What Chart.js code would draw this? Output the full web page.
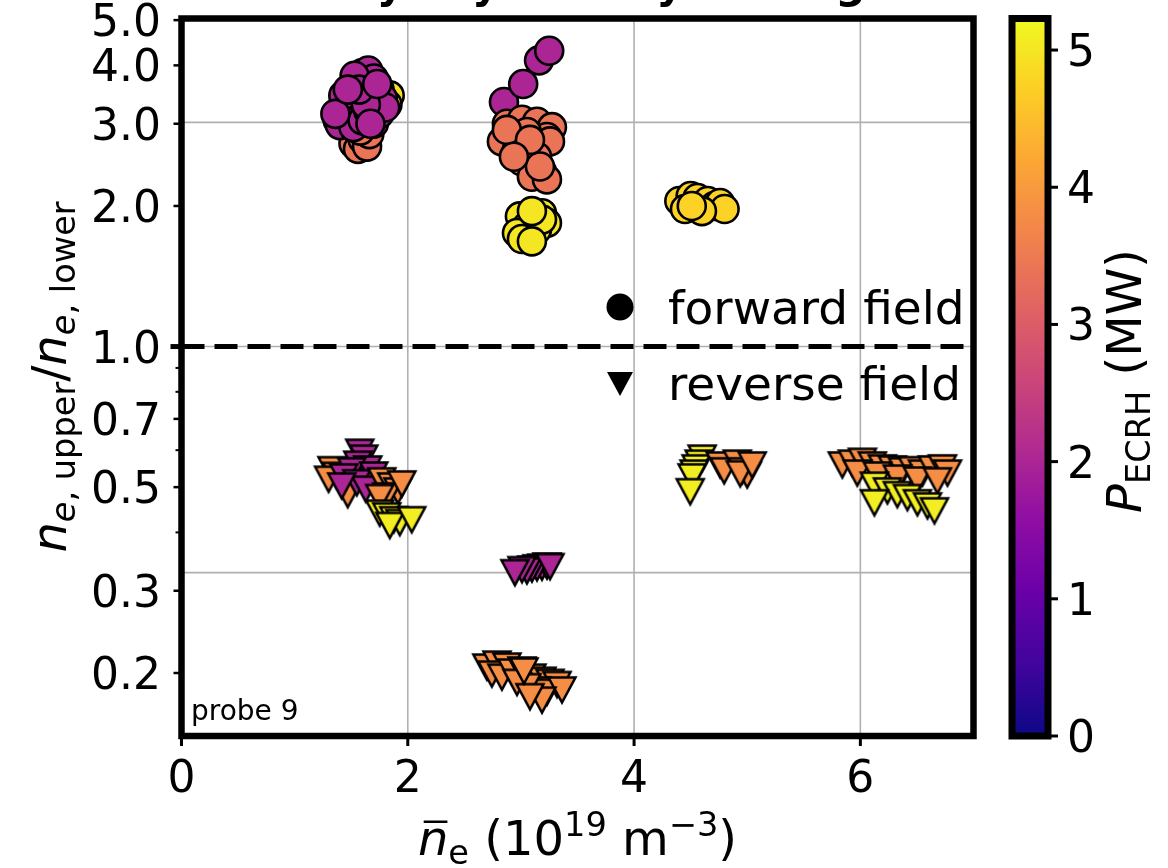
<!DOCTYPE html>
<html>
<head>
<meta charset="utf-8">
<script src="https://cdn.jsdelivr.net/npm/chart.js@4.4.0/dist/chart.umd.min.js"></script>
<style>
  html, body { margin: 0; padding: 0; background: #ffffff; }
  canvas { display: block; }
</style>
</head>
<body>
<canvas id="c" width="1168" height="868"></canvas>
<script>
// ---- axis settings and tick labels ----
const X_MIN = 0, X_MAX = 7;
const Y_MIN = 0.1466, Y_MAX = 5.04;
const xTicks = [0, 2, 4, 6];
const yTicks = [0.2, 0.3, 0.5, 0.7, 1.0, 2.0, 3.0, 4.0, 5.0];
const yTickLabels = ['0.2', '0.3', '0.5', '0.7', '1.0', '2.0', '3.0', '4.0', '5.0'];
const yMinorTicks = [0.4, 0.6, 0.8, 0.9];
const gridX = [2, 4, 6];
const gridY = [0.328, 1, 3.02];
const cbarTicks = [0, 1, 2, 3, 4, 5];
const P_MIN = 0, P_MAX = 5.23;

// ---- forward field (circles): density, ratio, heating power ----
const fwdX = [
  1.84, 1.82,
  1.52, 1.56, 1.60, 1.64, 1.66, 1.58,
  1.38, 1.42, 1.40, 1.45, 1.48, 1.50, 1.52, 1.55, 1.55, 1.58, 1.60, 1.60, 1.62, 1.65, 1.65, 1.68,
  1.70, 1.70, 1.72, 1.75, 1.75, 1.78, 1.80, 1.43, 1.53, 1.63, 1.57, 1.36, 1.67, 1.73, 1.47,
  2.85, 3.02, 3.16, 3.25,
  2.876, 3.009, 3.142, 3.274, 3.23, 2.92, 3.053, 2.832, 2.965, 3.097, 3.257, 3.009, 3.142, 3.186,
  3.097, 3.23, 3.168, 2.876, 3.08, 2.938,
  2.991, 3.186, 3.23, 3.053, 2.965, 3.142, 3.186, 3.097, 3.009, 3.097,
  4.40, 4.50, 4.56, 4.65, 4.71, 4.76, 4.80, 4.60, 4.45, 4.51
];
const fwdY = [
  3.45, 3.30,
  2.72, 2.65, 2.78, 2.68, 2.85, 2.90,
  3.05, 3.20, 2.98, 3.35, 3.10, 3.50, 2.95, 3.25, 3.70, 3.40, 3.05, 3.85, 3.60, 3.20, 3.90, 3.45,
  3.75, 3.00, 3.30, 3.55, 3.15, 3.40, 3.25, 3.45, 3.80, 3.30, 3.55, 3.15, 3.00, 3.65, 3.55,
  3.34, 3.65, 4.10, 4.30,
  3.00, 3.06, 3.03, 2.95, 2.81, 2.81, 2.88, 2.75, 2.64, 2.68, 2.75, 2.49, 2.55, 2.37,
  2.31, 2.28, 2.43, 2.91, 2.77, 2.55,
  1.90, 1.93, 1.84, 1.81, 1.75, 1.78, 1.87, 1.95, 1.70, 1.68,
  2.05, 2.10, 2.08, 2.05, 2.00, 2.03, 1.97, 1.95, 1.97, 2.00
];
const fwdP = [
  4.9, 4.9,
  3.4, 3.4, 3.4, 3.4, 3.4, 3.4,
  2.0, 2.0, 2.0, 2.0, 2.0, 2.0, 2.0, 2.0, 2.0, 2.0, 2.0, 2.0, 2.0, 2.0, 2.0, 2.0,
  2.0, 2.0, 2.0, 2.0, 2.0, 2.0, 2.0, 2.0, 2.0, 2.0, 2.0, 2.0, 2.0, 2.0, 2.0,
  2.0, 2.0, 2.0, 2.0,
  3.4, 3.4, 3.4, 3.4, 3.4, 3.4, 3.4, 3.4, 3.4, 3.4, 3.4, 3.4, 3.4, 3.4,
  3.4, 3.4, 3.4, 3.4, 3.4, 3.4,
  5.0, 5.0, 5.0, 5.0, 5.0, 5.0, 5.0, 5.0, 5.0, 5.0,
  4.75, 4.75, 4.75, 4.75, 4.75, 4.75, 4.75, 4.75, 4.75, 4.75
];

// ---- reverse field (triangles): density, ratio, heating power ----
const revX = [
  1.33, 1.37, 1.30, 1.469,
  1.575, 1.611, 1.558, 1.646, 1.504, 1.434, 1.699, 1.549, 1.628, 1.416,
  1.770, 1.858, 1.912, 1.814, 1.752, 1.947,
  1.752, 1.814, 1.876, 1.929, 1.841, 2.035,
  3.186, 3.23, 3.142, 3.097, 3.053, 3.257, 3.009, 2.947,
  2.699, 2.788, 2.876, 2.743, 2.832, 2.920, 3.009, 3.097, 3.186, 3.257, 3.319, 3.142, 3.230,
  3.053, 2.965, 3.363, 3.186, 3.080, 3.027,
  4.602, 4.575, 4.549, 4.531, 4.513,
  4.761, 4.796, 4.912, 4.956, 5.000, 4.938, 5.044,
  4.496,
  5.841, 5.929, 6.018, 6.106, 6.195, 6.283, 6.372, 6.460, 6.549, 6.637, 6.726, 6.770,
  5.973, 6.150, 6.327, 6.504, 6.681,
  6.124, 6.239, 6.327, 6.416, 6.504, 6.593, 6.655, 6.124
];
const revY = [
  0.545, 0.530, 0.520, 0.482,
  0.594, 0.577, 0.560, 0.547, 0.542, 0.526, 0.531, 0.511, 0.495, 0.503,
  0.516, 0.503, 0.491, 0.479, 0.475, 0.508,
  0.440, 0.434, 0.426, 0.420, 0.414, 0.426,
  0.337, 0.339, 0.336, 0.334, 0.331, 0.338, 0.333, 0.328,
  0.206, 0.209, 0.207, 0.199, 0.196, 0.201, 0.203, 0.196, 0.193, 0.191, 0.189, 0.184, 0.182,
  0.187, 0.191, 0.184, 0.175, 0.178, 0.202,
  0.577, 0.563, 0.550, 0.536, 0.526,
  0.558, 0.542, 0.563, 0.542, 0.531, 0.534, 0.558,
  0.489,
  0.558, 0.563, 0.568, 0.558, 0.550, 0.547, 0.542, 0.545, 0.536, 0.547, 0.550, 0.536,
  0.536, 0.531, 0.523, 0.518, 0.516,
  0.505, 0.491, 0.482, 0.475, 0.463, 0.456, 0.445, 0.463
];
const revP = [
  3.8, 3.8, 3.8, 3.8,
  2.0, 2.0, 2.0, 2.0, 2.0, 2.0, 2.0, 2.0, 2.0, 2.0,
  3.8, 3.8, 3.8, 3.8, 3.8, 3.8,
  5.1, 5.1, 5.1, 5.1, 5.1, 5.1,
  2.0, 2.0, 2.0, 2.0, 2.0, 2.0, 2.0, 2.0,
  3.8, 3.8, 3.8, 3.8, 3.8, 3.8, 3.8, 3.8, 3.8, 3.8, 3.8, 3.8, 3.8,
  3.8, 3.8, 3.8, 3.8, 3.8, 3.8,
  5.1, 5.1, 5.1, 5.1, 5.1,
  3.8, 3.8, 3.8, 3.8, 3.8, 3.8, 3.8,
  5.1,
  3.8, 3.8, 3.8, 3.8, 3.8, 3.8, 3.8, 3.8, 3.8, 3.8, 3.8, 3.8,
  3.8, 3.8, 3.8, 3.8, 3.8,
  5.1, 5.1, 5.1, 5.1, 5.1, 5.1, 5.1, 5.1
];

// ---- plasma colour map ----
const PLASMA = ['#0d0887', '#41049d', '#6a00a8', '#8f0da4', '#b12a90', '#cc4778',
                '#e16462', '#f2844b', '#fca636', '#fcce25', '#f0f921'];
function hexRgb(h) {
  return [parseInt(h.slice(1, 3), 16), parseInt(h.slice(3, 5), 16), parseInt(h.slice(5, 7), 16)];
}
function plasma(t) {
  t = Math.max(0, Math.min(1, t));
  const s = t * (PLASMA.length - 1);
  const i = Math.min(PLASMA.length - 2, Math.floor(s));
  const f = s - i;
  const a = hexRgb(PLASMA[i]), b = hexRgb(PLASMA[i + 1]);
  const c = a.map((v, k) => Math.round(v + (b[k] - v) * f));
  return 'rgb(' + c.join(',') + ')';
}
function powerColor(p) { return plasma((p - P_MIN) / (P_MAX - P_MIN)); }

// ---- downward triangle marker images, cached per colour ----
const triCache = {};
function triangleMarker(color, w, h, lw) {
  const key = color + '|' + w + '|' + h + '|' + lw;
  if (triCache[key]) return triCache[key];
  const cv = document.createElement('canvas');
  cv.width = Math.ceil(w + 2 * lw + 2); cv.height = Math.ceil(h + 2 * lw + 2);
  const g = cv.getContext('2d');
  const ox = lw + 1, oy = lw + 1;
  g.beginPath();
  g.moveTo(ox, oy);
  g.lineTo(ox + w, oy);
  g.lineTo(ox + w / 2, oy + h);
  g.closePath();
  g.fillStyle = color; g.fill();
  g.lineWidth = lw; g.strokeStyle = '#000'; g.lineJoin = 'miter'; g.stroke();
  triCache[key] = cv;
  return cv;
}

const FONT = '"DejaVu Sans", "Liberation Sans", sans-serif';
function fontOf(p) {
  return (p.italic ? 'oblique ' : '') + (p.bold ? 'bold ' : '') + p.size + 'px ' + FONT;
}
// draws a run of text pieces (used for sub/superscripts in the labels)
function drawRich(ctx, parts, x, y, align) {
  let total = 0;
  parts.forEach(p => { ctx.font = fontOf(p); p.w = ctx.measureText(p.t).width + (p.gap || 0); total += p.w; });
  let cx = align === 'center' ? x - total / 2 : x;
  parts.forEach(p => {
    ctx.font = fontOf(p);
    ctx.fillText(p.t, cx, y + (p.dy || 0));
    if (p.bar) {
      ctx.save();
      ctx.lineWidth = 2.5;
      ctx.beginPath();
      const by = y + (p.dy || 0) - p.size * 0.547 - 7;
      ctx.moveTo(cx + p.size * 0.12, by);
      ctx.lineTo(cx + p.w - p.size * 0.02, by);
      ctx.stroke();
      ctx.restore();
    }
    cx += p.w;
  });
}
function seg(ctx, x1, y1, x2, y2) {
  ctx.beginPath(); ctx.moveTo(x1, y1); ctx.lineTo(x2, y2); ctx.stroke();
}

// ---- grid, frame, axes text, legend and colour bar ----
const decor = {
  id: 'decor',
  beforeDatasetsDraw(chart) {
    const { ctx, chartArea: a, scales: { x, y } } = chart;
    ctx.save();
    ctx.strokeStyle = '#b0b0b0';
    ctx.lineWidth = 1.6;
    gridX.forEach(v => { const px = x.getPixelForValue(v); seg(ctx, px, a.top, px, a.bottom); });
    gridY.forEach(v => { const py = y.getPixelForValue(v); seg(ctx, a.left, py, a.right, py); });
    // unity ratio reference
    ctx.strokeStyle = '#000';
    ctx.lineWidth = 5;
    ctx.setLineDash([23, 10]);
    const p1 = y.getPixelForValue(1);
    seg(ctx, a.left, p1, a.right, p1);
    ctx.restore();
  },
  afterDatasetsDraw(chart) {
    const { ctx, chartArea: a, scales: { x, y } } = chart;
    ctx.save();
    ctx.fillStyle = '#000';
    ctx.strokeStyle = '#000';

    // frame
    ctx.lineWidth = 6.5;
    ctx.strokeRect(a.left, a.top, a.right - a.left, a.bottom - a.top);

    // y ticks
    ctx.lineCap = 'butt';
    yTicks.forEach(v => {
      const py = y.getPixelForValue(v);
      ctx.lineWidth = v === 1 ? 5 : 2.5;
      seg(ctx, a.left, py, a.left - (v === 1 ? 11 : 8), py);
    });
    yMinorTicks.forEach(v => {
      const py = y.getPixelForValue(v);
      ctx.lineWidth = 2;
      seg(ctx, a.left, py, a.left - 6, py);
    });
    // x ticks
    xTicks.forEach(v => {
      const px = x.getPixelForValue(v);
      ctx.lineWidth = 3;
      seg(ctx, px, a.bottom, px, a.bottom + 10);
    });

    // tick labels
    ctx.font = '44px ' + FONT;
    ctx.textAlign = 'right';
    ctx.textBaseline = 'alphabetic';
    yTicks.forEach((v, i) => {
      const py = y.getPixelForValue(v);
      ctx.fillText(yTickLabels[i], 161, py + 16);
    });
    ctx.textAlign = 'center';
    xTicks.forEach(v => {
      ctx.fillText(String(v), x.getPixelForValue(v), 792);
    });

    // x axis title
    ctx.textAlign = 'left';
    drawRich(ctx, [
      { t: 'n', size: 48, italic: true, bar: true },
      { t: 'e', size: 33.6, dy: 9 },
      { t: ' (10', size: 48 },
      { t: '19', size: 33.6, dy: -19 },
      { t: ' m', size: 48 },
      { t: '\u22123', size: 33.6, dy: -19 },
      { t: ')', size: 48 }
    ], (a.left + a.right) / 2, 855, 'center');

    // y axis title
    ctx.save();
    ctx.translate(66, 377);
    ctx.rotate(-Math.PI / 2);
    drawRich(ctx, [
      { t: 'n', size: 48, italic: true },
      { t: 'e', size: 33.6, italic: true, dy: 9 },
      { t: ', upper', size: 33.6, dy: 9 },
      { t: '/', size: 48 },
      { t: 'n', size: 48, italic: true },
      { t: 'e', size: 33.6, italic: true, dy: 9 },
      { t: ', lower', size: 33.6, dy: 9 }
    ], 0, 0, 'center');
    ctx.restore();

    // legend
    ctx.beginPath();
    ctx.arc(620, 307, 13.5, 0, Math.PI * 2);
    ctx.fill();
    ctx.beginPath();
    ctx.moveTo(607, 372); ctx.lineTo(633, 372); ctx.lineTo(620, 396); ctx.closePath();
    ctx.fill();
    ctx.font = '47px ' + FONT;
    ctx.textAlign = 'left';
    ctx.fillText('forward field', 668, 324);
    ctx.fillText('reverse field', 668, 400);

    // probe tag
    ctx.font = '28px ' + FONT;
    ctx.fillText('probe 9', 191, 720);

    // title (runs off the top edge)
    ctx.font = 'bold 42px ' + FONT;
    ctx.fillText('Density asymmetry scaling', 224, -2);

    // colour bar
    const cbL = 1012, cbR = 1048, cbT = a.top, cbB = a.bottom;
    const cy = v => cbB - (v - P_MIN) / (P_MAX - P_MIN) * (cbB - cbT);
    const grad = ctx.createLinearGradient(0, cbB, 0, cbT);
    PLASMA.forEach((c, i) => grad.addColorStop(i / (PLASMA.length - 1), c));
    ctx.fillStyle = grad;
    ctx.fillRect(cbL, cbT, cbR - cbL, cbB - cbT);
    ctx.lineWidth = 7;
    ctx.strokeStyle = '#000';
    ctx.strokeRect(cbL, cbT, cbR - cbL, cbB - cbT);
    ctx.fillStyle = '#000';
    ctx.font = '44px ' + FONT;
    ctx.textAlign = 'left';
    cbarTicks.forEach(v => {
      const py = cy(v);
      ctx.lineWidth = 3;
      seg(ctx, cbR + 3, py, cbR + 10, py);
      ctx.fillText(String(v), 1067, py + 16);
    });
    ctx.save();
    ctx.translate(1141, 381);
    ctx.rotate(-Math.PI / 2);
    drawRich(ctx, [
      { t: 'P', size: 48, italic: true },
      { t: 'ECRH', size: 33.6, dy: 9 },
      { t: ' (MW)', size: 48 }
    ], 0, 0, 'center');
    ctx.restore();

    ctx.restore();
  }
};

const fwdData = fwdX.map((v, i) => ({ x: v, y: fwdY[i] }));
const revData = revX.map((v, i) => ({ x: v, y: revY[i] }));

new Chart(document.getElementById('c'), {
  type: 'scatter',
  data: {
    datasets: [
      {
        label: 'forward field',
        data: fwdData,
        pointStyle: 'circle',
        pointRadius: 14,
        pointBorderWidth: 2.6,
        pointBorderColor: '#000',
        pointBackgroundColor: ctx => powerColor(fwdP[ctx.dataIndex]),
        order: 2
      },
      {
        label: 'reverse field',
        data: revData,
        pointStyle: ctx => triangleMarker(powerColor(revP[ctx.dataIndex]), 27, 25, 2.5),
        pointRadius: 14,
        order: 1
      }
    ]
  },
  options: {
    responsive: false,
    devicePixelRatio: 1,
    animation: false,
    events: [],
    layout: { padding: { left: 181.5, right: 1168 - 973.5, top: 18.5, bottom: 868 - 736 } },
    plugins: { legend: { display: false }, tooltip: { enabled: false }, title: { display: false } },
    scales: {
      x: { type: 'linear', min: X_MIN, max: X_MAX, display: false },
      y: { type: 'logarithmic', min: Y_MIN, max: Y_MAX, display: false }
    }
  },
  plugins: [decor]
});
</script>
</body>
</html>
